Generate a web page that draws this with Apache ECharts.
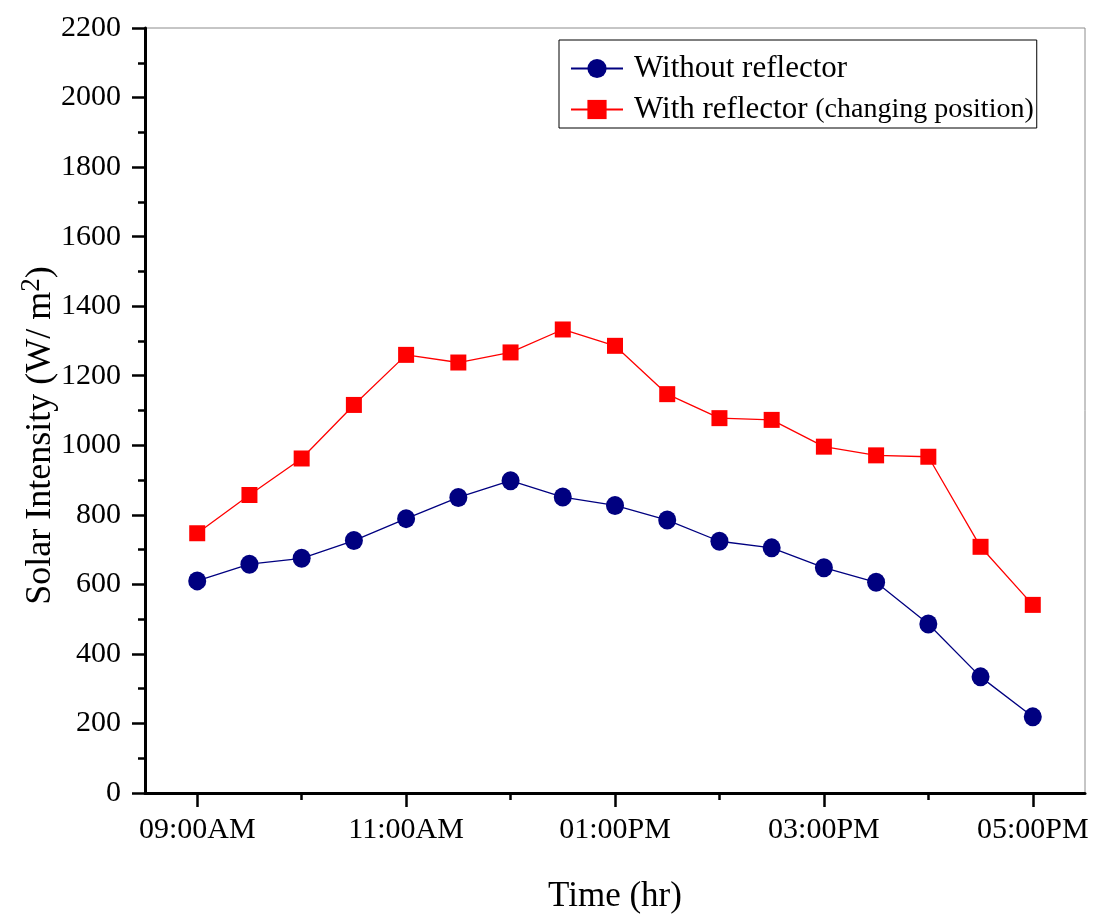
<!DOCTYPE html>
<html>
<head>
<meta charset="utf-8">
<script src="https://cdn.jsdelivr.net/npm/echarts@6/dist/echarts.min.js"></script>
<style>html,body{margin:0;padding:0;background:#fff}#c{width:1095px;height:915px}</style>
</head>
<body>
<div id="c"></div>
<script>
// Time of each reading, in decimal hours (09:00 = 9, 17:00 = 5 PM)
const hours = [9, 9.5, 10, 10.5, 11, 11.5, 12, 12.5, 13, 13.5, 14, 14.5, 15, 15.5, 16, 16.5, 17];
const withoutReflector = [610, 658, 675, 726, 789, 850, 898, 851, 827, 785, 724, 705, 648, 606, 486, 334, 219];
const withReflector = [747, 857, 962, 1116, 1260, 1238, 1267, 1333, 1286, 1147, 1078, 1073, 996, 971, 967, 708, 541];
const majorTickHours = [9, 11, 13, 15, 17];
const majorTickLabels = ['09:00AM', '11:00AM', '01:00PM', '03:00PM', '05:00PM'];
const minorTickHours = [10, 12, 14, 16];
const yTicks = { min: 0, max: 2200, step: 200 };

const FONT = '"Liberation Serif", "Times New Roman", serif';
const chart = echarts.init(document.getElementById('c'));

function pairs(ys) { return hours.map((h, i) => [h, ys[i]]); }

chart.setOption({
  animation: false,
  backgroundColor: '#fff',
  textStyle: { fontFamily: FONT },
  grid: { left: 145, right: 10, top: 28, bottom: 122, outerBoundsMode: 'none', containLabel: false,
    show: true, borderColor: '#8c8c8c', borderWidth: 1, backgroundColor: 'transparent' },
  legend: {
    orient: 'vertical',
    left: 559, top: 40,
    borderColor: '#000', borderWidth: 1, borderRadius: 0,
    padding: [13, 3, 3, 11],
    itemGap: 10,
    itemWidth: 52, itemHeight: 24,
    textStyle: { fontFamily: FONT, fontSize: 31, color: '#000', padding: [0, 0, 0, 6],
      rich: { s: { fontFamily: FONT, fontSize: 28, color: '#000' } } },
    formatter: function (name) {
      const i = name.indexOf('(');
      if (i >= 0) return name.slice(0, i) + '{s|' + name.slice(i) + '}';
      return name;
    },
    data: ['Without reflector', 'With reflector (changing position)']
  },
  xAxis: [{
    type: 'value', min: 8.5, max: 17.5,
    name: 'Time (hr)', nameLocation: 'middle', nameGap: 86,
    nameTextStyle: { fontFamily: FONT, fontSize: 35, color: '#000' },
    axisLine: { show: true, lineStyle: { color: '#000', width: 3 } },
    axisTick: { show: true, customValues: majorTickHours, length: 14, lineStyle: { color: '#000', width: 2.5 } },
    axisLabel: { customValues: majorTickHours, margin: 22, fontFamily: FONT, fontSize: 30, color: '#000',
      formatter: v => majorTickLabels[majorTickHours.indexOf(v)] },
    splitLine: { show: false }
  }, {
    type: 'value', min: 8.5, max: 17.5, position: 'bottom',
    axisLine: { show: false },
    axisTick: { show: true, customValues: minorTickHours, length: 7, lineStyle: { color: '#000', width: 2.5 } },
    axisLabel: { show: false },
    splitLine: { show: false }
  }],
  yAxis: {
    type: 'value', min: yTicks.min, max: yTicks.max, interval: yTicks.step,
    name: '{a|Solar Intensity (W/ m}{sup|2}{a|)}', nameLocation: 'middle', nameGap: 82,
    nameMoveOverlap: false,
    nameTextStyle: { padding: [0, 50, 0, 0], rich: {
      a: { fontFamily: FONT, fontSize: 36, color: '#000' },
      sup: { fontFamily: FONT, fontSize: 27, color: '#000', verticalAlign: 'top', padding: [0, 0, 18, 0] }
    } },
    axisLine: { show: true, lineStyle: { color: '#000', width: 3 } },
    axisTick: { show: true, length: 13, lineStyle: { color: '#000', width: 2.5 } },
    minorTick: { show: true, splitNumber: 2, length: 7, lineStyle: { color: '#000', width: 2.5 } },
    axisLabel: { margin: 24, fontFamily: FONT, fontSize: 30, color: '#000', formatter: v => String(v) },
    splitLine: { show: false }
  },
  series: [{
    name: 'Without reflector', type: 'line', data: pairs(withoutReflector),
    symbol: 'circle', symbolSize: [18, 19],
    itemStyle: { color: '#000080' },
    lineStyle: { color: '#000080', width: 1.3 }
  }, {
    name: 'With reflector (changing position)', type: 'line', data: pairs(withReflector),
    symbol: 'rect', symbolSize: 16,
    itemStyle: { color: '#ff0000' },
    lineStyle: { color: '#ff0000', width: 1.3 }
  }]
});
</script>
</body>
</html>
